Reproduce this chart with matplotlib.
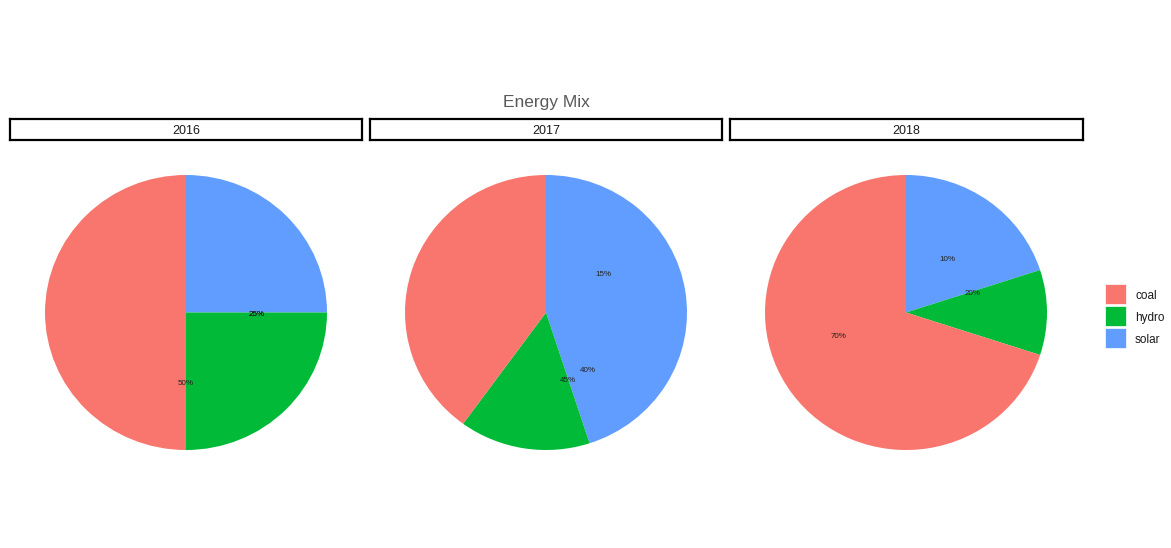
import numpy as np
import matplotlib.pyplot as plt
from matplotlib.patches import Rectangle

plt.rcParams['font.family'] = ['Liberation Sans', 'DejaVu Sans']

years = ['2016', '2017', '2018']
sources = ['coal', 'hydro', 'solar']
coal = [50, 40, 70]
hydro = [25, 15, 10]
solar = [25, 45, 20]
colors = {'coal': '#F8766D', 'hydro': '#00BA38', 'solar': '#619CFF'}

W, H = 1171, 548


def px_box(x0, y0, x1, y1):
    # pixel box (top-left origin) -> figure fraction rect
    return [x0 / W, 1 - y1 / H, (x1 - x0) / W, (y1 - y0) / H]


fig = plt.figure(figsize=(W / 100, H / 100), dpi=100)
fig.patch.set_facecolor('white')

fig.text(546 / W, 1 - 103 / H, 'Energy Mix', ha='center', va='center',
         fontsize=12.5, color='#595959')

strip_x = [(10, 362), (370, 722), (730, 1083)]
centers = [186, 546, 906]

for i, year in enumerate(years):
    # facet strip
    sx0, sx1 = strip_x[i]
    sax = fig.add_axes(px_box(sx0, 119, sx1, 140))
    sax.set_xticks([])
    sax.set_yticks([])
    for sp in sax.spines.values():
        sp.set_linewidth(1.6)
        sp.set_color('black')
    sax.text(0.5, 0.42, year, ha='center', va='center', fontsize=9, color='#1a1a1a',
             transform=sax.transAxes)

    # pie panel
    cx = centers[i]
    ax = fig.add_axes(px_box(cx - 141, 175, cx + 141, 450))
    vals = [solar[i], hydro[i], coal[i]]
    cols = [colors['solar'], colors['hydro'], colors['coal']]
    ax.pie(vals, colors=cols, startangle=90, counterclock=False, radius=1,
           wedgeprops=dict(linewidth=0))
    ax.set_aspect('auto')
    ax.set_xlim(-1, 1)
    ax.set_ylim(-1, 1)
    ax.axis('off')

    # labels sit at angle = value (as in the original chart), half radius
    for v in [coal[i], hydro[i], solar[i]]:
        th = 2 * np.pi * v / 100
        ax.text(0.5 * np.sin(th), 0.5 * np.cos(th) - 0.018, '{}%'.format(v),
                ha='center', va='center', fontsize=5.8, color='#222222')

# legend
key_y = [284, 306, 328]
for name, ky in zip(sources, key_y):
    fig.patches.append(Rectangle((1105 / W, 1 - (ky + 20) / H), 21 / W, 20 / H,
                                 transform=fig.transFigure, facecolor=colors[name],
                                 edgecolor='white', linewidth=0.5))
    fig.text(1135 / W, 1 - (ky + 12) / H, name, ha='left', va='center',
             fontsize=8.5, color='#1a1a1a')

fig.savefig('out.png', dpi=100)
